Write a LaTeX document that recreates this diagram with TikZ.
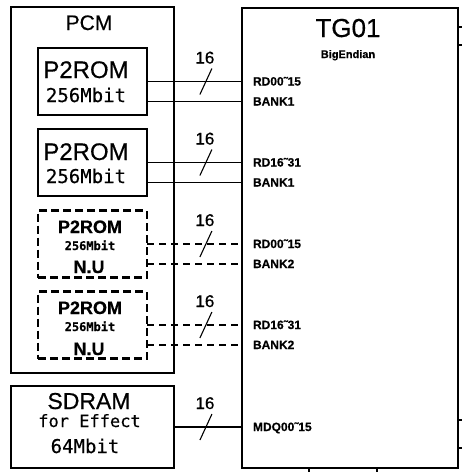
\documentclass[tikz,border=0pt]{standalone}
\usepackage{fontspec}
\setmainfont{Liberation Sans}[FakeBold=0.5]
\newfontfamily\monofont{DejaVu Sans Mono}[FakeBold=0.4]
\newcommand\fsz[1]{\fontsize{#1}{#1}\selectfont}
\usetikzlibrary{positioning}

\begin{document}
\begin{tikzpicture}[x=1pt,y=-1pt,every node/.style={inner sep=0pt,outer sep=0pt},
  blk/.style={draw,line width=2.7pt},
  rombox/.style={blk,minimum width=109pt,minimum height=67pt},
  nubox/.style={rombox,dash pattern=on 8pt off 4pt},
  wire/.style={line width=1.1pt},
  nuwire/.style={wire,dash pattern=on 7pt off 5pt},
  txt/.style={anchor=base},
  pin/.style={anchor=base west,font=\bfseries\fsz{12}},
  buslbl/.style={anchor=base,font=\fsz{17}}]
\useasboundingbox (0,0) rectangle (462,472);
% blocks
\node[blk,minimum width=163pt,minimum height=366pt] (pcm) at (92.5,190) {};
\node[blk,minimum width=216pt,minimum height=460pt] (tg) at (350,238) {};
\node[blk,minimum width=163pt,minimum height=82pt] (sdram) at (92.5,427) {};
\node[rombox] (rom1) at (92.5,81.5) {};
\node[rombox] (rom2) at (92.5,162.5) {};
\node[nubox] (rom3) at (92.5,244) {};
\node[nubox] (rom4) at (92.5,325) {};
% texts
\node[txt,font=\fsz{21}] (pcmt) at (89,30) {PCM};
\node[txt,font=\fsz{24}] (rom1a) at (86,78) {P2ROM};
\node[txt,font=\monofont\fsz{19}] (rom1b) at (86,102) {256Mbit};
\node[txt,font=\fsz{24}] (rom2a) at (86,160) {P2ROM};
\node[txt,font=\monofont\fsz{19}] (rom2b) at (86,183) {256Mbit};
\node[txt,font=\bfseries\fsz{18}] (rom3a) at (90,233) {P2ROM};
\node[txt,font=\monofont\bfseries\fsz{12}] (rom3b) at (90,250) {256Mbit};
\node[txt,font=\bfseries\fsz{18}] (rom3c) at (89,273) {N.U};
\node[txt,font=\bfseries\fsz{18}] (rom4a) at (90,314) {P2ROM};
\node[txt,font=\monofont\bfseries\fsz{12}] (rom4b) at (90,331) {256Mbit};
\node[txt,font=\bfseries\fsz{18}] (rom4c) at (89,355) {N.U};
\node[txt,font=\fsz{23}] (sdramt) at (89,409) {SDRAM};
\node[txt,font=\monofont\fsz{17}] (sdramb) at (89.5,427) {for Effect};
\node[txt,font=\monofont\fsz{19}] (sdramc) at (85,453) {64Mbit};
\node[txt,font=\fsz{26}] (tgt) at (348,37) {TG01};
\node[txt,font=\bfseries\fsz{11}] (tgb) at (348,58) {BigEndian};
% buses
\draw[wire] (rom1.east) -- coordinate[pos=.62] (b1) (rom1.east -| tg.west);
\draw[wire] ([yshift=-20pt]rom1.east) -- ([yshift=-20pt]rom1.east -| tg.west);
\draw[wire] (rom2.east) -- coordinate[pos=.62] (b2) (rom2.east -| tg.west);
\draw[wire] ([yshift=-20pt]rom2.east) -- ([yshift=-20pt]rom2.east -| tg.west);
\draw[nuwire] (rom3.east) -- coordinate[pos=.62] (b3) (rom3.east -| tg.west);
\draw[nuwire] ([yshift=-20pt]rom3.east) -- ([yshift=-20pt]rom3.east -| tg.west);
\draw[nuwire] (rom4.east) -- coordinate[pos=.62] (b4) (rom4.east -| tg.west);
\draw[nuwire] ([yshift=-20pt]rom4.east) -- ([yshift=-20pt]rom4.east -| tg.west);
\draw[wire] (sdram.east) -- coordinate[pos=.47] (b5) (sdram.east -| tg.west);
\draw[wire] ([shift={(6,-13)}]b1) -- ([shift={(-6,13)}]b1);
\draw[wire] ([shift={(6,-13)}]b2) -- ([shift={(-6,13)}]b2);
\draw[wire] ([shift={(6,-13)}]b3) -- ([shift={(-6,13)}]b3);
\draw[wire] ([shift={(6,-13)}]b4) -- ([shift={(-6,13)}]b4);
\draw[wire] ([shift={(6,-13)}]b5) -- ([shift={(-6,13)}]b5);
\node[buslbl] (w1) at ([shift={(-1,-18)}]b1) {16};
\node[buslbl] (w2) at ([shift={(-1,-18)}]b2) {16};
\node[buslbl] (w3) at ([shift={(-1,-18)}]b3) {16};
\node[buslbl] (w4) at ([shift={(-1,-18)}]b4) {16};
\node[buslbl] (w5) at ([shift={(-1,-18)}]b5) {16};
% pins of TG01
\node[pin] (p1) at ([xshift=11pt,yshift=-4pt]rom1.east -| tg.west) {RD00˜15};
\node[pin] (p2) at ([xshift=11pt,yshift=-24pt]rom1.east -| tg.west) {BANK1};
\node[pin] (p3) at ([xshift=11pt,yshift=-4pt]rom2.east -| tg.west) {RD16˜31};
\node[pin] (p4) at ([xshift=11pt,yshift=-24pt]rom2.east -| tg.west) {BANK1};
\node[pin] (p5) at ([xshift=11pt,yshift=-4pt]rom3.east -| tg.west) {RD00˜15};
\node[pin] (p6) at ([xshift=11pt,yshift=-24pt]rom3.east -| tg.west) {BANK2};
\node[pin] (p7) at ([xshift=11pt,yshift=-4pt]rom4.east -| tg.west) {RD16˜31};
\node[pin] (p8) at ([xshift=11pt,yshift=-24pt]rom4.east -| tg.west) {BANK2};
\node[pin] (p9) at ([xshift=11pt,yshift=-4pt]sdram.east -| tg.west) {MDQ00˜15};
% cut-off stubs at the edges
\draw[wire] (309,468) -- (309,472) (377,468) -- (377,472);
\draw[wire] (459,420) -- (462,420) (459,448) -- (462,448);
\draw[wire] (459,27) -- (462,27) (459,45) -- (462,45);
\end{tikzpicture}
\end{document}
